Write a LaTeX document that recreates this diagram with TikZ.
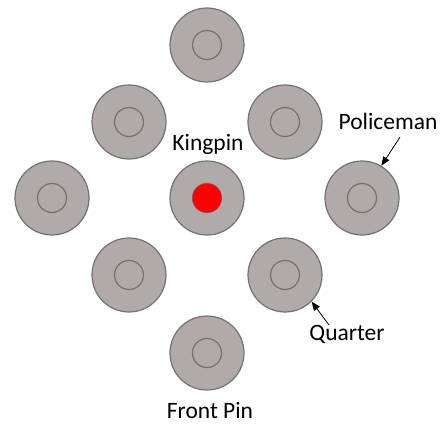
\documentclass[tikz,border=0pt]{standalone}
\usepackage{fontspec}
\setmainfont{Carlito}
\usetikzlibrary{arrows.meta}
\definecolor{pinfill}{HTML}{AFABAB}
\definecolor{pinedge}{HTML}{767171}
\definecolor{kingred}{HTML}{FF0000}
\tikzset{
  pinbody/.style={circle, draw=pinedge, fill=pinfill, line width=1.2pt, minimum size=74pt, inner sep=0pt},
  pinhole/.style={circle, draw=pinedge, line width=1.2pt, minimum size=29pt, inner sep=0pt},
  pinlabel/.style={font=\fontsize{23.5}{26}\selectfont, inner sep=0pt},
  callout/.style={-{Triangle[length=9pt,width=7pt]}, line width=0.8pt}
}
\begin{document}
\begin{tikzpicture}[x=1pt, y=-1pt]
  \useasboundingbox (0,0) rectangle (446,425);
  % pins, row by row
  \foreach \name/\px/\py in {front/207/353, lq/129/275, rq/285/275,
      lpol/52/198, king/207/198, rpol/362/198, lb/129/122, rb/285/122, top/207/45} {
    \node[pinbody] (\name) at (\px,\py) {};
    \node[pinhole] (\name hole) at (\name) {};
  }
  \fill[kingred] (king) circle (14.5pt);
  % labels
  \node[pinlabel] (kinglabel) at (208,144) {Kingpin};
  \node[pinlabel] (pollabel) at (388,121) {Policeman};
  \node[pinlabel] (quarterlabel) at (347,334) {Quarter};
  \node[pinlabel] (frontlabel) at (210,410) {Front Pin};
  % callouts
  \coordinate (polstart) at (400,137);
  \coordinate (quarterstart) at (329,325);
  \draw[callout] (polstart) -- (rpol.59);
  \draw[callout] (quarterstart) -- (rq.-45);
\end{tikzpicture}
\end{document}
